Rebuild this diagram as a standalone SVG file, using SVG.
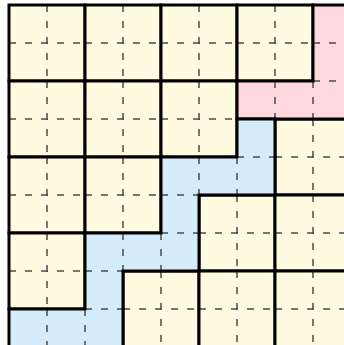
<svg xmlns="http://www.w3.org/2000/svg" xmlns:xlink="http://www.w3.org/1999/xlink" width="344" height="345" viewBox="0 0 344 345">
<style>
.pink{fill:#FFD8DD}
.blue{fill:#D4ECFA}
.out{fill:none;stroke:#000;stroke-width:3;stroke-linejoin:miter}
.dash{stroke:#4a4a4a;stroke-width:1.5;stroke-dasharray:7 9;fill:none}
</style>
<defs>
<g id="sq">
<rect x="0" y="0" width="76" height="76" fill="#FFFBE1"/>
<path class="dash" d="M38 0V76M0 38H76"/>
<rect class="out" x="0" y="0" width="76" height="76"/>
</g>
</defs>
<rect width="344" height="345" fill="#fff"/>
<g id="t1" transform="translate(9,5)"><use xlink:href="#sq"/></g>
<g id="t2" transform="translate(85,5)"><use xlink:href="#sq"/></g>
<g id="t3" transform="translate(161,5)"><use xlink:href="#sq"/></g>
<g id="t4" transform="translate(237,5)"><use xlink:href="#sq"/></g>
<g id="t5" transform="translate(9,81)"><use xlink:href="#sq"/></g>
<g id="t6" transform="translate(85,81)"><use xlink:href="#sq"/></g>
<g id="t7" transform="translate(161,81)"><use xlink:href="#sq"/></g>
<g id="t8" transform="translate(275,119)"><use xlink:href="#sq"/></g>
<g id="t9" transform="translate(9,157)"><use xlink:href="#sq"/></g>
<g id="t10" transform="translate(85,157)"><use xlink:href="#sq"/></g>
<g id="t11" transform="translate(199,195)"><use xlink:href="#sq"/></g>
<g id="t12" transform="translate(275,195)"><use xlink:href="#sq"/></g>
<g id="t13" transform="translate(9,233)"><use xlink:href="#sq"/></g>
<g id="t14" transform="translate(123,271)"><use xlink:href="#sq"/></g>
<g id="t15" transform="translate(199,271)"><use xlink:href="#sq"/></g>
<g id="t16" transform="translate(275,271)"><use xlink:href="#sq"/></g>
<g id="pink">
<path class="pink" d="M313 5H351V119H237V81H313Z"/>
<path class="dash" d="M313 43H351M313 81H351M275 81V119M313 81V119"/>
<path class="out" d="M313 5H351V119H237V81H313Z"/>
</g>
<g id="blue">
<path class="blue" d="M237 119H275V195H199V271H123V347H9V309H85V233H161V157H237Z"/>
<path class="dash" d="M237 157H275M199 157V195M237 157V195M161 195H199M161 233H199M123 233V271M161 233V271M85 271H123M85 309H123M47 309V347M85 309V347"/>
<path class="out" d="M237 119H275V195H199V271H123V347H9V309H85V233H161V157H237Z"/>
</g>
<g id="connectors"></g>
</svg>
